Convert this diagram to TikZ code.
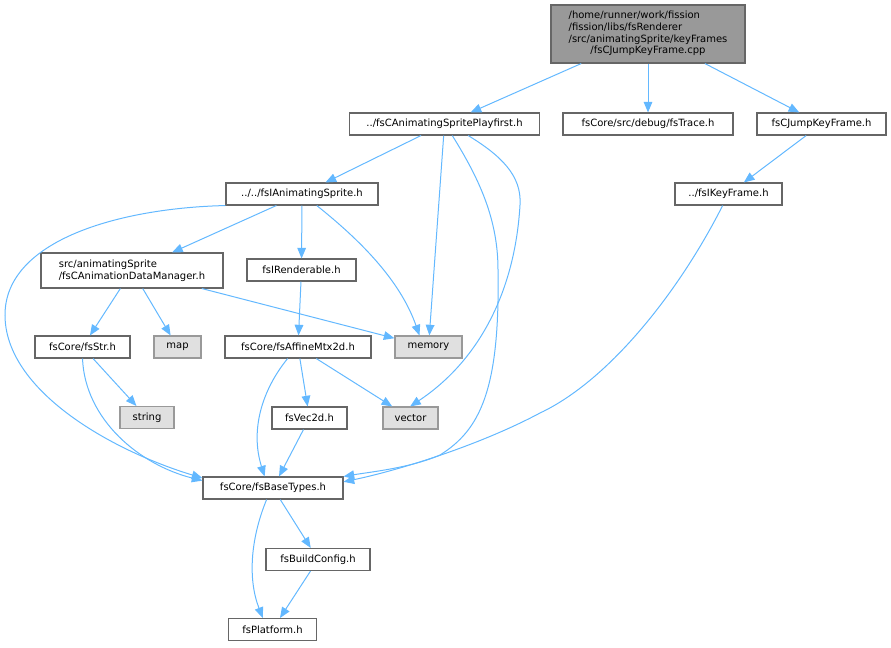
\documentclass[tikz,border=0pt]{standalone}
\usepackage{fontspec}
\setmainfont{DejaVu Sans}
\usetikzlibrary{arrows.meta}

\definecolor{edgeblue}{RGB}{99,184,255}
\definecolor{boxgray}{RGB}{102,102,102}
\definecolor{extgray}{RGB}{153,153,153}
\definecolor{extfill}{RGB}{224,224,224}
\definecolor{rootfill}{RGB}{153,153,153}

\tikzset{every picture/.style={line width=0.75pt}}
\tikzset{
  hdr/.style={draw=boxgray, fill=white, line width=0.8pt, minimum height=16.5pt, inner sep=1pt, font=\fontsize{7.5}{8.8}\selectfont},
  sys/.style={hdr, draw=extgray, fill=extfill},
  boxw/.style={minimum width=#1*0.75pt},
  inc/.style={draw=edgeblue, line width=0.75pt, -{Triangle[length=8pt,width=6.5pt,fill=edgeblue]}},
}

\begin{document}
\begin{tikzpicture}[x=0.75pt,y=0.75pt,yscale=-1,xscale=1]
	\useasboundingbox (0,0) rectangle (891,647);

	% Text Node
	\node[hdr, fill=rootfill, boxw=194, minimum height=43.5pt] (root) at (648,34) {\begin{tabular}{@{}l@{}}/home/runner/work/fission\\/fission/libs/fsRenderer\\/src/animatingSprite/keyFrames\\\multicolumn{1}{@{}c@{}}{/fsCJumpKeyFrame.cpp}\end{tabular}};
	% Text Node
	\node[hdr, boxw=190] (pf) at (444.5,124) {../fsCAnimatingSpritePlayfirst.h};
	% Text Node
	\node[hdr, boxw=170] (trace) at (648,124) {fsCore/src/debug/fsTrace.h};
	% Text Node
	\node[hdr, boxw=129] (jkf) at (821.5,124) {fsCJumpKeyFrame.h};
	% Text Node
	\node[hdr, boxw=152] (ias) at (302,194) {../../fsIAnimatingSprite.h};
	% Text Node
	\node[hdr, boxw=107] (ikf) at (728.5,194) {../fsIKeyFrame.h};
	% Text Node
	\node[hdr, boxw=182, minimum height=26.25pt, align=left] (adm) at (132,270.5) {src/animatingSprite\\/fsCAnimationDataManager.h};
	% Text Node
	\node[hdr, boxw=109] (rend) at (301.5,270) {fsIRenderable.h};
	% Text Node
	\node[hdr, boxw=95] (str) at (82.5,347) {fsCore/fsStr.h};
	% Text Node
	\node[sys, boxw=47] (map) at (177.5,347) {map};
	% Text Node
	\node[hdr, boxw=146] (aff) at (298,347) {fsCore/fsAffineMtx2d.h};
	% Text Node
	\node[sys, boxw=67] (mem) at (428.5,347) {memory};
	% Text Node
	\node[sys, boxw=54] (string) at (147,417.5) {string};
	% Text Node
	\node[hdr, boxw=75] (vec2) at (309.5,418) {fsVec2d.h};
	% Text Node
	\node[sys, boxw=55] (vector) at (410.5,418) {vector};
	% Text Node
	\node[hdr, boxw=140] (bt) at (273,488) {fsCore/fsBaseTypes.h};
	% Text Node
	\node[hdr, boxw=104] (bc) at (318,559.5) {fsBuildConfig.h};
	% Text Node
	\node[hdr, boxw=88] (plat) at (272.5,629.5) {fsPlatform.h};

	%Straight Lines
	\draw[inc] (root) -- (pf);
	\draw[inc] (root) -- (trace);
	\draw[inc] (root) -- (jkf);
	\draw[inc] (pf) -- (ias);
	\draw[inc] (pf) -- (mem);
	\draw[inc] (jkf) -- (ikf);
	\draw[inc] (ias) -- (adm);
	\draw[inc] (ias) -- (rend);
	\draw[inc] (adm) -- (str);
	\draw[inc] (adm) -- (map);
	\draw[inc] (adm) -- (mem);
	\draw[inc] (rend) -- (aff);
	\draw[inc] (str) -- (string);
	\draw[inc] (aff) -- (vec2);
	\draw[inc] (aff) -- (vector);
	\draw[inc] (vec2) -- (bt);
	\draw[inc] (bt) -- (bc);
	\draw[inc] (bc) -- (plat);

	%Curve Lines
	\draw[inc] (pf.-56) .. controls (480,180) and (498,220) .. (498,270) .. controls (500,390) and (480,430) .. (440,455) .. controls (410,468) and (370,472) .. (bt.north east);
	\draw[inc] (pf.-26) .. controls (500,155) and (522,175) .. (520,205) .. controls (515,290) and (480,360) .. (vector.92);
	\draw[inc] (ikf.-117) .. controls (680,290) and (610,380) .. (540,413) .. controls (480,445) and (400,470) .. (bt.5);
	\draw[inc] (ias.south west) .. controls (120,208) and (5,240) .. (5,315) .. controls (5,390) and (110,450) .. (bt.172);
	\draw[inc] (ias.-38) .. controls (360,240) and (400,280) .. (mem.128);
	\draw[inc] (str.south) .. controls (85,420) and (140,465) .. (bt.174);
	\draw[inc] (aff.-132) .. controls (262,390) and (250,430) .. (bt.126);
	\draw[inc] (bt.-119) .. controls (250,540) and (248,580) .. (plat.130);

\end{tikzpicture}
\end{document}
